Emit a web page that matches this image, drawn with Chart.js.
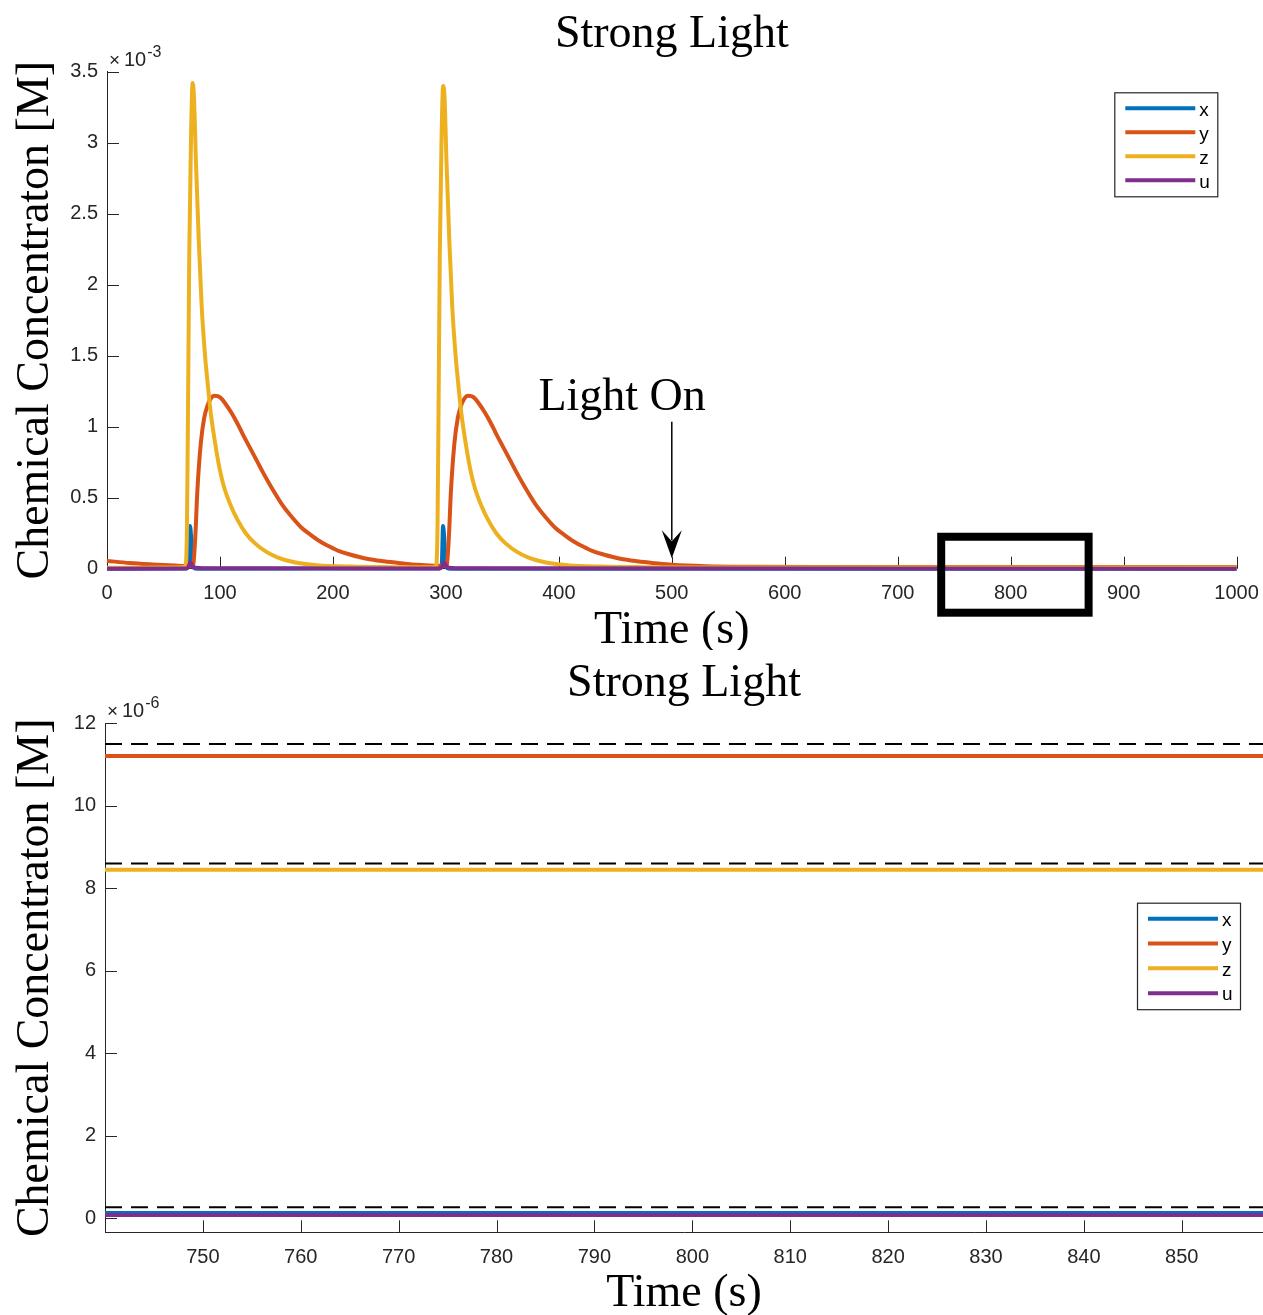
<!DOCTYPE html>
<html>
<head>
<meta charset="utf-8">
<script src="https://cdn.jsdelivr.net/npm/chart.js@4/dist/chart.umd.min.js"></script>
<style>
  body { margin: 0; background: #fff; }
  canvas { display: block; }
</style>
</head>
<body>
<canvas id="fullChart" width="1263" height="650" style="width:1263px;height:650px"></canvas>
<canvas id="zoomChart" width="1263" height="665" style="width:1263px;height:665px"></canvas>
<script>
// ---- data (concentrations in units of the axis multiplier) ----
// top panel: x1e-3 M, time in s
const tX = [0, 70, 71.5, 72.5, 73.5, 74.5, 75.5, 77, 80, 294, 295.5, 296.5, 297.5, 298.5, 299.5, 301, 304, 1000];
const xVals = [0.0003, 0.001, 0.01, 0.05, 0.3, 0.22, 0.05, 0.005, 0.0005, 0.001, 0.01, 0.05, 0.3, 0.22, 0.05, 0.005, 0.0005, 0.00013];

const tY = [0, 20, 40, 60, 76, 78, 80, 83, 86, 89, 92, 95, 98, 101, 105, 110, 115, 120, 126, 132,
  140, 148, 156, 164, 172, 180, 188, 196, 205, 215, 230, 245, 261, 276, 290, 300.5,
  302.5, 304.5, 307.5, 310.5, 313.5, 316.5, 319.5, 322.5, 325.5, 329.5, 334.5, 339.5, 344.5, 350.5,
  356.5, 364.5, 372.5, 380.5, 388.5, 396.5, 404.5, 412.5, 420.5, 429.5, 439.5, 454.5, 469.5, 485.5, 500.5,
  530, 570, 650, 800, 1000];
const yVals = [0.055, 0.04, 0.03, 0.022, 0.018, 0.2, 0.55, 0.88, 1.06, 1.15, 1.2, 1.218, 1.215, 1.2, 1.16, 1.1, 1.03, 0.95, 0.86, 0.77,
  0.65, 0.54, 0.44, 0.36, 0.29, 0.24, 0.195, 0.16, 0.125, 0.1, 0.07, 0.052, 0.038, 0.027, 0.021, 0.018,
  0.2, 0.55, 0.88, 1.06, 1.15, 1.2, 1.218, 1.215, 1.2, 1.16, 1.1, 1.03, 0.95, 0.86,
  0.77, 0.65, 0.54, 0.44, 0.36, 0.29, 0.24, 0.195, 0.16, 0.125, 0.1, 0.07, 0.052, 0.038, 0.027,
  0.017, 0.013, 0.0115, 0.0112, 0.0112];

const tZ = [0, 30, 60,
  65.8, 68.8, 69.8, 70.8, 71.8, 72.8, 74.3, 75.8, 77, 78.8, 81.3, 83.8, 86.8, 88.8, 91.8, 95.8, 99.8, 103.8,
  109.8, 115.8, 122.8, 130.8, 140.8, 150.8, 165.8, 185.8, 215.8, 255.8,
  275,
  287.6, 290.6, 291.6, 292.6, 293.6, 294.6, 296.1, 297.6, 298.8, 300.6, 303.1, 305.6, 308.6, 310.6, 313.6,
  317.6, 321.6, 325.6, 331.6, 337.6, 344.6, 352.6, 362.6, 372.6, 387.6, 407.6, 437.6, 477.6,
  520, 600, 1000];
const zVals = [0.006, 0.007, 0.009,
  0.01, 0.015, 0.03, 0.3, 1.2, 2.2, 3.0, 3.42, 3.32, 2.85, 2.3, 1.85, 1.5, 1.33, 1.1, 0.88, 0.7, 0.57,
  0.44, 0.34, 0.25, 0.18, 0.12, 0.08, 0.045, 0.025, 0.015, 0.011,
  0.01,
  0.01, 0.015, 0.03, 0.3, 1.2, 2.2, 3.0, 3.40, 3.32, 2.85, 2.3, 1.85, 1.5, 1.33, 1.1,
  0.88, 0.7, 0.57, 0.44, 0.34, 0.25, 0.18, 0.12, 0.08, 0.045, 0.025, 0.015, 0.011,
  0.009, 0.0085, 0.0085];

const tU = [0, 70, 72, 74, 76, 79, 85, 294, 296.5, 298.5, 300.5, 303, 309, 1000];
const uVals = [0.0001, 0.001, 0.012, 0.045, 0.015, 0.006, 0.004, 0.002, 0.012, 0.045, 0.015, 0.006, 0.004, 0.00008];

const topXTicks = [0, 100, 200, 300, 400, 500, 600, 700, 800, 900, 1000];
const topYTicks = [0, 0.5, 1, 1.5, 2, 2.5, 3, 3.5];
const topYLabels = ['0', '0.5', '1', '1.5', '2', '2.5', '3', '3.5'];

// bottom panel: x1e-6 M, steady state after light on
const zoomT = [740, 858.3];
const zoomX = [0.13, 0.13];
const zoomY = [11.21, 11.21];
const zoomZ = [8.45, 8.45];
const zoomU = [0.08, 0.08];
const refLevels = [11.5, 8.6, 0.27];

const zoomXTicks = [750, 760, 770, 780, 790, 800, 810, 820, 830, 840, 850];
const zoomYTicks = [0, 2, 4, 6, 8, 10, 12];
const zoomYLabels = ['0', '2', '4', '6', '8', '10', '12'];

// annotation values (top panel)
const lightOnLabel = 'Light On';
const lightOnTime = 500;
const lightOnText = [456, 1.118];
const arrowFrom = 1.035, arrowTo = 0.073;
const zoomBox = [738.5, 869, 0.225];

const COLORS = { x: '#0072BD', y: '#D95319', z: '#EDB120', u: '#7E2F8E' };
const AXIS = '#262626';
const SANS = '"Liberation Sans", Arial, Helvetica, sans-serif';
const SERIF = '"Liberation Serif", "Times New Roman", serif';

Chart.defaults.font.family = SANS;
Chart.defaults.color = AXIS;

function pts(ts, vs) {
  return ts.map((t, i) => ({ x: t, y: vs[i] }));
}

function lineSet(label, color, ts, vs, order, clip) {
  return {
    label: label, data: pts(ts, vs),
    borderColor: color, backgroundColor: color, borderWidth: 4,
    pointRadius: 0, pointHoverRadius: 0, fill: false,
    cubicInterpolationMode: 'monotone', order: order, clip: clip
  };
}

function dashSet(level) {
  return {
    label: '', noLegend: true,
    data: pts(zoomT, [level, level]),
    borderColor: '#000', borderWidth: 2, borderDash: [17, 9],
    pointRadius: 0, fill: false, order: 0
  };
}

// MATLAB-style ticks pointing into the axes, plus the x10^n multiplier
const inwardTicks = {
  id: 'inwardTicks',
  beforeDatasetsDraw(chart, args, opts) {
    const { ctx, chartArea: a, scales: { x, y } } = chart;
    ctx.save();
    ctx.strokeStyle = AXIS;
    ctx.lineWidth = 1;
    ctx.beginPath();
    x.ticks.forEach(t => {
      const px = Math.round(x.getPixelForValue(t.value)) + 0.5;
      ctx.moveTo(px, a.bottom);
      ctx.lineTo(px, a.bottom - 12);
    });
    y.ticks.forEach(t => {
      const py = Math.round(y.getPixelForValue(t.value)) + 0.5;
      ctx.moveTo(a.left, py);
      ctx.lineTo(a.left + 12, py);
    });
    ctx.stroke();

    ctx.fillStyle = AXIS;
    ctx.textAlign = 'left';
    ctx.textBaseline = 'alphabetic';
    ctx.font = '19px ' + SANS;
    ctx.fillText('×', a.left + 2, a.top - 6);
    ctx.font = '20px ' + SANS;
    ctx.fillText('10', a.left + 17, a.top - 6);
    const w = ctx.measureText('10').width;
    ctx.font = '16px ' + SANS;
    ctx.fillText(opts.exp, a.left + 18 + w, a.top - 15);
    ctx.restore();
  }
};

// boxed legend inside the axes
const boxLegend = {
  id: 'boxLegend',
  afterDatasetsDraw(chart, args, opts) {
    const { ctx, chartArea: a } = chart;
    const items = chart.data.datasets.filter(d => !d.noLegend);
    const w = 103, h = 104 + opts.extra;
    const rowH = (h - 32) / 3;
    const left = a.right - opts.right - w;
    const top = a.top + opts.top;
    ctx.save();
    ctx.fillStyle = '#fff';
    ctx.fillRect(left, top, w, h);
    ctx.strokeStyle = AXIS;
    ctx.lineWidth = 1.2;
    ctx.strokeRect(left + 0.5, top + 0.5, w, h);
    ctx.font = '19px ' + SANS;
    ctx.textAlign = 'left';
    ctx.textBaseline = 'middle';
    items.forEach((d, i) => {
      const yy = top + 16 + i * rowH;
      ctx.strokeStyle = d.borderColor;
      ctx.lineWidth = 4;
      ctx.beginPath();
      ctx.moveTo(left + 11, yy);
      ctx.lineTo(left + 81, yy);
      ctx.stroke();
      ctx.fillStyle = '#000';
      ctx.fillText(d.label, left + 85, yy + 2);
    });
    ctx.restore();
  }
};

// "Light On" arrow and the zoom rectangle
const annotations = {
  id: 'annotations',
  afterDatasetsDraw(chart) {
    const { ctx, chartArea: a, scales: { x, y } } = chart;
    ctx.save();
    ctx.fillStyle = '#000';
    ctx.strokeStyle = '#000';
    ctx.font = '46px ' + SERIF;
    ctx.textAlign = 'center';
    ctx.textBaseline = 'alphabetic';
    ctx.fillText(lightOnLabel, x.getPixelForValue(lightOnText[0]), y.getPixelForValue(lightOnText[1]));

    const ax = x.getPixelForValue(lightOnTime);
    const y0 = y.getPixelForValue(arrowFrom);
    const y1 = y.getPixelForValue(arrowTo);
    ctx.lineWidth = 1.5;
    ctx.beginPath();
    ctx.moveTo(ax, y0);
    ctx.lineTo(ax, y1 - 18);
    ctx.stroke();
    ctx.beginPath();
    ctx.moveTo(ax, y1);
    ctx.lineTo(ax - 10, y1 - 28);
    ctx.lineTo(ax, y1 - 17);
    ctx.lineTo(ax + 10, y1 - 28);
    ctx.closePath();
    ctx.fill();

    const bx0 = x.getPixelForValue(zoomBox[0]);
    const bx1 = x.getPixelForValue(zoomBox[1]);
    const by0 = y.getPixelForValue(zoomBox[2]);
    ctx.lineWidth = 8;
    ctx.strokeRect(bx0, by0, bx1 - bx0, a.bottom + 44 - by0);
    ctx.restore();
  }
};

function buildScales(o) {
  return {
    x: {
      type: 'linear', min: o.xMin, max: o.xMax,
      afterBuildTicks: s => { s.ticks = o.xTicks.map(v => ({ value: v })); },
      afterFit: s => { s.height = o.xHeight; },
      // tick marks are drawn by the plugin; tickLength only offsets the labels
      grid: { display: false, drawTicks: true, tickLength: 13 },
      border: { display: true, color: AXIS, width: 1 },
      ticks: { padding: 0, color: AXIS, font: { size: 20 }, maxRotation: 0, autoSkip: false, callback: v => String(v) },
      title: {
        display: true, text: 'Time (s)', color: '#000',
        font: { family: SERIF, size: 46, lineHeight: 1 },
        padding: { top: 0, bottom: o.xTitlePad }
      }
    },
    y: {
      type: 'linear', min: o.yMin, max: o.yMax,
      afterBuildTicks: s => { s.ticks = o.yTicks.map(v => ({ value: v })); },
      afterFit: s => { s.width = o.yWidth; },
      grid: { display: false, drawTicks: false },
      border: { display: true, color: AXIS, width: 1 },
      ticks: { padding: 9, color: AXIS, font: { size: 20 }, autoSkip: false, callback: (v, i) => o.yLabels[i] },
      title: {
        display: true, text: 'Chemical Concentraton [M]', color: '#000',
        font: { family: SERIF, size: 46, lineHeight: 1 },
        padding: { top: 13, bottom: 0 }
      }
    }
  };
}

function titleOpts(padTop, padBottom) {
  return {
    display: true, text: 'Strong Light', fullSize: false, color: '#000',
    font: { family: SERIF, size: 46, weight: 'normal', lineHeight: 1 },
    padding: { top: padTop, bottom: padBottom }
  };
}

new Chart(document.getElementById('fullChart'), {
  type: 'line',
  data: {
    datasets: [
      lineSet('x', COLORS.x, tX, xVals, 4, false),
      lineSet('y', COLORS.y, tY, yVals, 3, false),
      lineSet('z', COLORS.z, tZ, zVals, 2, false),
      lineSet('u', COLORS.u, tU, uVals, 1, false)
    ]
  },
  options: {
    responsive: false, animation: false, devicePixelRatio: 1,
    layout: { padding: { left: 0, right: 26.4, top: 0, bottom: 0 } },
    scales: buildScales({
      xMin: 0, xMax: 1000, xTicks: topXTicks, xHeight: 81.3, xTitlePad: -4,
      yMin: 0, yMax: 3.5, yTicks: topYTicks, yLabels: topYLabels, yWidth: 107
    }),
    plugins: {
      legend: { display: false },
      tooltip: { enabled: false },
      title: titleOpts(12, 13.7),
      inwardTicks: { exp: '-3' },
      boxLegend: { right: 19.3, top: 20.6, extra: 0 }
    }
  },
  plugins: [inwardTicks, annotations, boxLegend]
});

new Chart(document.getElementById('zoomChart'), {
  type: 'line',
  data: {
    datasets: [
      lineSet('x', COLORS.x, zoomT, zoomX, 4, true),
      lineSet('y', COLORS.y, zoomT, zoomY, 3, true),
      lineSet('z', COLORS.z, zoomT, zoomZ, 2, true),
      lineSet('u', COLORS.u, zoomT, zoomU, 1, true),
      dashSet(refLevels[0]),
      dashSet(refLevels[1]),
      dashSet(refLevels[2])
    ]
  },
  options: {
    responsive: false, animation: false, devicePixelRatio: 1,
    layout: { padding: { left: 0, right: 0, top: 0, bottom: 0 } },
    scales: buildScales({
      xMin: 740, xMax: 858.3, xTicks: zoomXTicks, xHeight: 82.7, xTitlePad: -2,
      yMin: -0.34, yMax: 12, yTicks: zoomYTicks, yLabels: zoomYLabels, yWidth: 105
    }),
    plugins: {
      legend: { display: false },
      tooltip: { enabled: false },
      title: titleOpts(11, 16.3),
      inwardTicks: { exp: '-6' },
      boxLegend: { right: 23, top: 179.4, extra: 2.5 }
    }
  },
  plugins: [inwardTicks, boxLegend]
});
</script>
</body>
</html>
